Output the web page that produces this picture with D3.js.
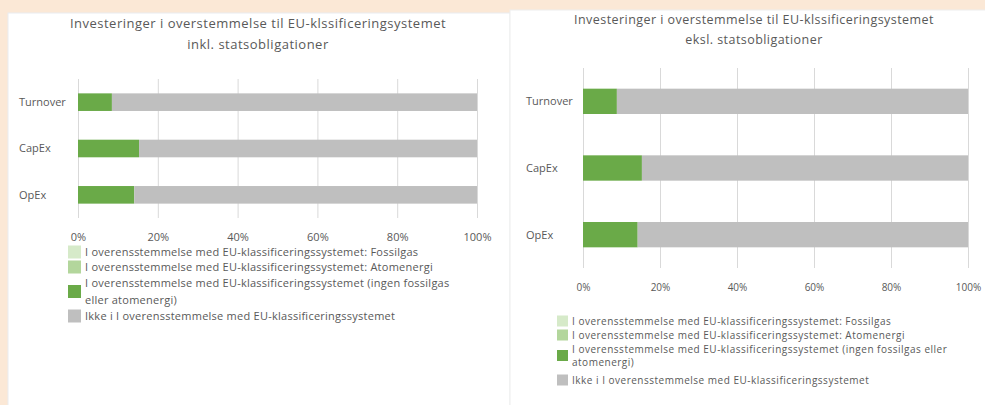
<!DOCTYPE html>
<html>
<head>
<meta charset="utf-8">
<script src="https://cdn.jsdelivr.net/npm/d3@7"></script>
<style>
body { margin: 0; background: #fbe8d6; }
text { font-family: "Open Sans", sans-serif; fill: #595959; }
</style>
</head>
<body>
<svg class="chart"></svg>
<script>
// values, in percent
var categories = ["Turnover", "CapEx", "OpEx"];
var seriesKeys = ["fossilgas", "atomenergi", "aligned", "notAligned"];
var seriesNames = [
  "I overensstemmelse med EU-klassificeringssystemet: Fossilgas",
  "I overensstemmelse med EU-klassificeringssystemet: Atomenergi",
  "I overensstemmelse med EU-klassificeringssystemet (ingen fossilgas eller atomenergi)",
  "Ikke i I overensstemmelse med EU-klassificeringssystemet"
];
var seriesColors = ["#d6eac9", "#b3d69c", "#6aaa48", "#bfbfbf"];
var tickValues = [0, 20, 40, 60, 80, 100];
var tickLabels = ["0%", "20%", "40%", "60%", "80%", "100%"];

// inkl. statsobligationer
var inklFossilgas = [0, 0, 0];
var inklAtomenergi = [0, 0, 0];
var inklAligned = [8.5, 15.3, 14.1];
var inklNotAligned = [91.5, 84.7, 85.9];

// eksl. statsobligationer
var ekslFossilgas = [0, 0, 0];
var ekslAtomenergi = [0, 0, 0];
var ekslAligned = [8.8, 15.3, 14.2];
var ekslNotAligned = [91.2, 84.7, 85.8];

var width = 985;
var height = 405;
var svg = d3.select(".chart").attr("width", width).attr("height", height);

// white panels
svg.append("rect").attr("x", 8).attr("y", 13).attr("width", 502).attr("height", 400)
  .attr("fill", "#fff").attr("stroke", "#e9ecef");
svg.append("rect").attr("x", 510).attr("y", 10).attr("width", 480).attr("height", 400)
  .attr("fill", "#fff").attr("stroke", "#eeeeee");

function makeRows(f, a, g, n) {
  return categories.map(function(c, i) {
    return {cat: c, fossilgas: f[i], atomenergi: a[i], aligned: g[i], notAligned: n[i]};
  });
}

function wrap(textEl, str, maxWidth, x, lineHeight) {
  var words = str.split(" ");
  var line = [];
  var count = 1;
  var tspan = textEl.append("tspan").attr("x", x).attr("dy", "0.35em");
  words.forEach(function(w) {
    line.push(w);
    tspan.text(line.join(" "));
    if (tspan.node().getComputedTextLength() > maxWidth && line.length > 1) {
      line.pop();
      tspan.text(line.join(" "));
      line = [w];
      tspan = textEl.append("tspan").attr("x", x).attr("dy", lineHeight).text(w);
      count++;
    }
  });
  return count;
}

function drawPanel(o, rows) {
  var x = d3.scaleLinear().domain([0, 100]).range([o.left, o.right]);
  var y = d3.scaleBand().domain(categories).range([o.top, o.bottom])
    .paddingInner(0.62).paddingOuter(0.31);

  // title
  o.title.forEach(function(t, i) {
    svg.append("text")
      .attr("x", o.titleX).attr("y", o.titleY + i * o.titleGap)
      .attr("text-anchor", "middle")
      .style("font-size", o.titleSize + "px")
      .style("letter-spacing", o.titleSpacing + "px")
      .text(t);
  });

  // gridlines
  svg.append("g")
    .attr("transform", "translate(0," + o.bottom + ")")
    .call(d3.axisBottom(x).tickValues(tickValues).tickSize(-(o.bottom - o.top)).tickFormat(""))
    .call(function(g) {
      g.select(".domain").remove();
      g.selectAll("line").attr("stroke", "#d9d9d9");
    });

  // bars
  var stack = d3.stack().keys(seriesKeys)(rows);
  svg.append("g").selectAll("g").data(stack).join("g")
    .attr("fill", function(d, i) { return seriesColors[i]; })
    .selectAll("rect").data(function(d) { return d; }).join("rect")
    .attr("x", function(d) { return x(d[0]); })
    .attr("width", function(d) { return x(d[1]) - x(d[0]); })
    .attr("y", function(d) { return y(d.data.cat); })
    .attr("height", y.bandwidth());

  // x tick labels
  svg.append("g")
    .attr("transform", "translate(0," + o.tickY + ")")
    .call(d3.axisBottom(x).tickValues(tickValues).tickSize(0)
      .tickFormat(function(d, i) { return tickLabels[i]; }))
    .call(function(g) {
      g.select(".domain").remove();
      g.selectAll("text").attr("y", 0).attr("dy", "0.35em")
        .style("font-size", o.tickSize + "px").attr("font-family", null).attr("fill", null);
    });

  // category labels
  svg.append("g").selectAll("text").data(categories).join("text")
    .attr("x", o.catX)
    .attr("y", function(d) { return y(d) + y.bandwidth() / 2; })
    .attr("dy", "0.35em")
    .style("font-size", o.catSize + "px")
    .text(function(d) { return d; });

  // legend
  seriesNames.forEach(function(name, i) {
    var t = svg.append("text")
      .attr("y", o.legendY[i])
      .style("font-size", o.legendSize + "px")
      .style("letter-spacing", o.legendSpacing + "px");
    var lines = wrap(t, name, o.legendWrap, o.legendX + o.sq + 4, o.legendLine);
    var cy = o.legendY[i] + (lines - 1) * o.legendLine / 2;
    svg.append("rect")
      .attr("x", o.legendX).attr("y", cy - o.sq / 2)
      .attr("width", o.sq).attr("height", o.sq)
      .attr("fill", seriesColors[i]);
  });
}

drawPanel({
  title: ["Investeringer i overstemmelse til EU-klssificeringsystemet", "inkl. statsobligationer"],
  titleX: 258, titleY: 28, titleGap: 21, titleSize: 13, titleSpacing: 0.5,
  left: 78, right: 477, top: 79, bottom: 218,
  tickY: 237, tickSize: 11, catX: 19, catSize: 11,
  legendX: 68, legendY: [252, 267, 283, 316], legendLine: 17,
  legendWrap: 375, legendSize: 11, legendSpacing: 0.25, sq: 13
}, makeRows(inklFossilgas, inklAtomenergi, inklAligned, inklNotAligned));

drawPanel({
  title: ["Investeringer i overstemmelse til EU-klssificeringsystemet", "eksl. statsobligationer"],
  titleX: 754, titleY: 24, titleGap: 20, titleSize: 12.5, titleSpacing: 0.45,
  left: 583, right: 968, top: 68, bottom: 268,
  tickY: 287, tickSize: 10, catX: 526, catSize: 11,
  legendX: 557, legendY: [321, 335, 349, 380], legendLine: 13,
  legendWrap: 392, legendSize: 10, legendSpacing: 0.5, sq: 11
}, makeRows(ekslFossilgas, ekslAtomenergi, ekslAligned, ekslNotAligned));
</script>
</body>
</html>
